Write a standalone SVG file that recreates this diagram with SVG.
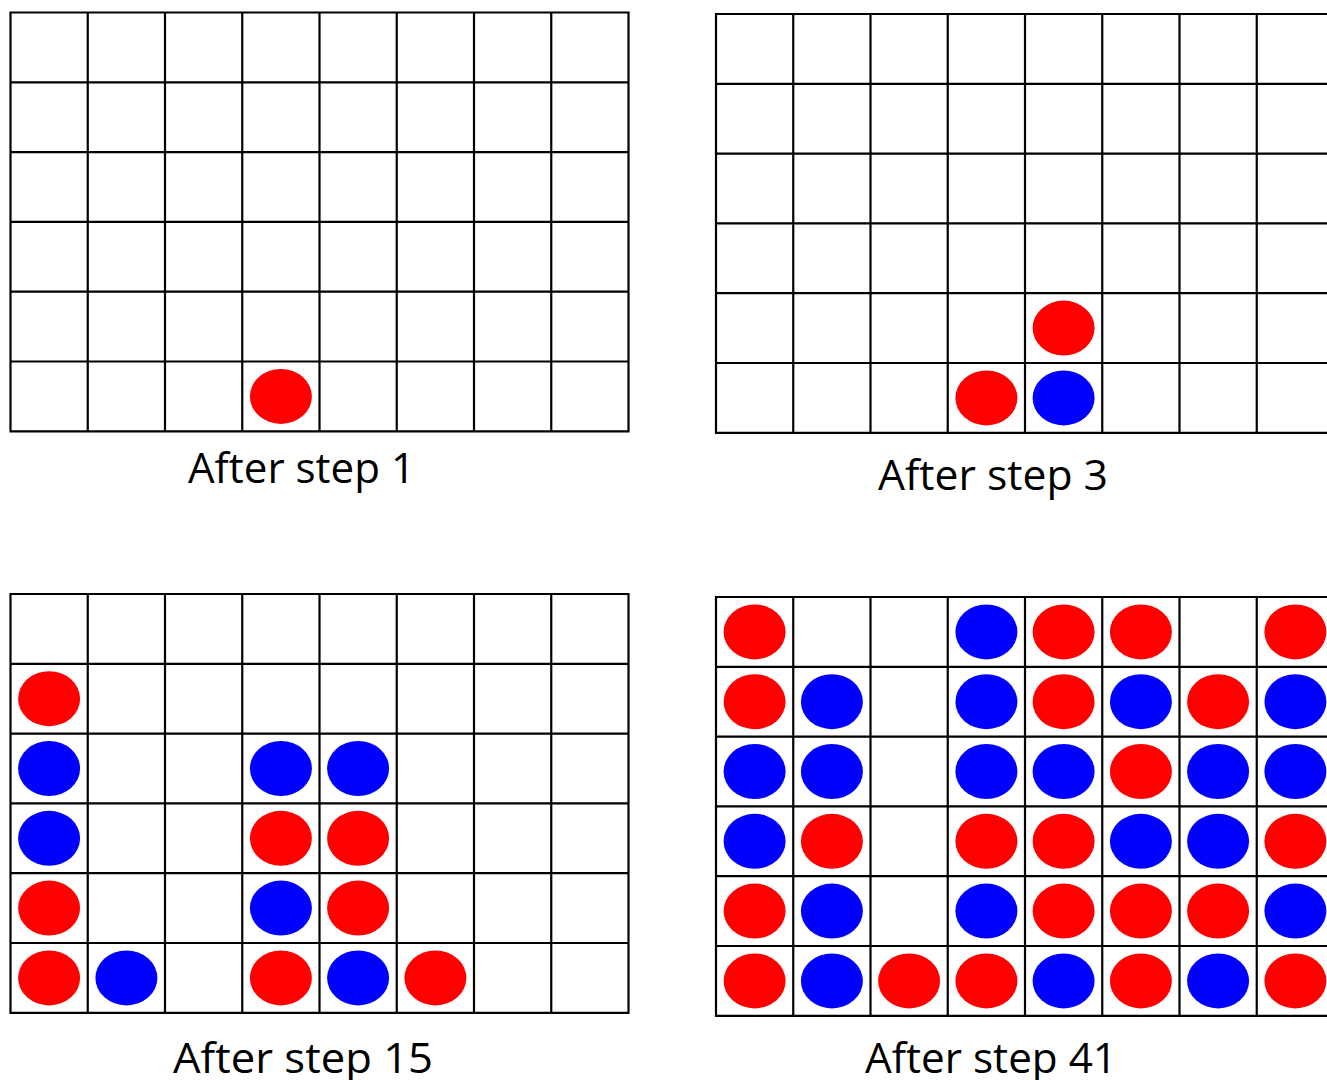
<svg xmlns="http://www.w3.org/2000/svg" xmlns:xlink="http://www.w3.org/1999/xlink" width="1327" height="1080" viewBox="0 0 1327 1080">
<style>
.grid{fill:#fff;stroke:#000;stroke-width:2.2}
.r{fill:#ff0000}
.b{fill:#0000ff}
.lbl{font-family:"Open Sans","Noto Sans",sans-serif;font-size:42px;fill:#000;text-anchor:middle}
</style>
<defs>
<path id="board" class="grid" d="M0 0H618V418.8H0Z M77.25 0V418.8 M154.5 0V418.8 M231.75 0V418.8 M309 0V418.8 M386.25 0V418.8 M463.5 0V418.8 M540.75 0V418.8 M0 69.8H618 M0 139.6H618 M0 209.4H618 M0 279.2H618 M0 349H618"/>
</defs>
<rect width="1327" height="1080" fill="#fff"/>
<g id="board1" transform="translate(10.5 12.5)">
<use xlink:href="#board" href="#board"/>
<ellipse class="r" cx="270.4" cy="383.9" rx="31" ry="27.5"/>
</g>
<g id="board2" transform="translate(716 14)">
<use xlink:href="#board" href="#board"/>
<ellipse class="r" cx="347.6" cy="314.1" rx="31" ry="27.5"/>
<ellipse class="r" cx="270.4" cy="383.9" rx="31" ry="27.5"/>
<ellipse class="b" cx="347.6" cy="383.9" rx="31" ry="27.5"/>
</g>
<g id="board3" transform="translate(10.5 594)">
<use xlink:href="#board" href="#board"/>
<ellipse class="r" cx="38.6" cy="104.7" rx="31" ry="27.5"/>
<ellipse class="b" cx="38.6" cy="174.5" rx="31" ry="27.5"/>
<ellipse class="b" cx="270.4" cy="174.5" rx="31" ry="27.5"/>
<ellipse class="b" cx="347.6" cy="174.5" rx="31" ry="27.5"/>
<ellipse class="b" cx="38.6" cy="244.3" rx="31" ry="27.5"/>
<ellipse class="r" cx="270.4" cy="244.3" rx="31" ry="27.5"/>
<ellipse class="r" cx="347.6" cy="244.3" rx="31" ry="27.5"/>
<ellipse class="r" cx="38.6" cy="314.1" rx="31" ry="27.5"/>
<ellipse class="b" cx="270.4" cy="314.1" rx="31" ry="27.5"/>
<ellipse class="r" cx="347.6" cy="314.1" rx="31" ry="27.5"/>
<ellipse class="r" cx="38.6" cy="383.9" rx="31" ry="27.5"/>
<ellipse class="b" cx="115.9" cy="383.9" rx="31" ry="27.5"/>
<ellipse class="r" cx="270.4" cy="383.9" rx="31" ry="27.5"/>
<ellipse class="b" cx="347.6" cy="383.9" rx="31" ry="27.5"/>
<ellipse class="r" cx="424.9" cy="383.9" rx="31" ry="27.5"/>
</g>
<g id="board4" transform="translate(716 597)">
<use xlink:href="#board" href="#board"/>
<ellipse class="r" cx="38.6" cy="34.9" rx="31" ry="27.5"/>
<ellipse class="b" cx="270.4" cy="34.9" rx="31" ry="27.5"/>
<ellipse class="r" cx="347.6" cy="34.9" rx="31" ry="27.5"/>
<ellipse class="r" cx="424.9" cy="34.9" rx="31" ry="27.5"/>
<ellipse class="r" cx="579.4" cy="34.9" rx="31" ry="27.5"/>
<ellipse class="r" cx="38.6" cy="104.7" rx="31" ry="27.5"/>
<ellipse class="b" cx="115.9" cy="104.7" rx="31" ry="27.5"/>
<ellipse class="b" cx="270.4" cy="104.7" rx="31" ry="27.5"/>
<ellipse class="r" cx="347.6" cy="104.7" rx="31" ry="27.5"/>
<ellipse class="b" cx="424.9" cy="104.7" rx="31" ry="27.5"/>
<ellipse class="r" cx="502.1" cy="104.7" rx="31" ry="27.5"/>
<ellipse class="b" cx="579.4" cy="104.7" rx="31" ry="27.5"/>
<ellipse class="b" cx="38.6" cy="174.5" rx="31" ry="27.5"/>
<ellipse class="b" cx="115.9" cy="174.5" rx="31" ry="27.5"/>
<ellipse class="b" cx="270.4" cy="174.5" rx="31" ry="27.5"/>
<ellipse class="b" cx="347.6" cy="174.5" rx="31" ry="27.5"/>
<ellipse class="r" cx="424.9" cy="174.5" rx="31" ry="27.5"/>
<ellipse class="b" cx="502.1" cy="174.5" rx="31" ry="27.5"/>
<ellipse class="b" cx="579.4" cy="174.5" rx="31" ry="27.5"/>
<ellipse class="b" cx="38.6" cy="244.3" rx="31" ry="27.5"/>
<ellipse class="r" cx="115.9" cy="244.3" rx="31" ry="27.5"/>
<ellipse class="r" cx="270.4" cy="244.3" rx="31" ry="27.5"/>
<ellipse class="r" cx="347.6" cy="244.3" rx="31" ry="27.5"/>
<ellipse class="b" cx="424.9" cy="244.3" rx="31" ry="27.5"/>
<ellipse class="b" cx="502.1" cy="244.3" rx="31" ry="27.5"/>
<ellipse class="r" cx="579.4" cy="244.3" rx="31" ry="27.5"/>
<ellipse class="r" cx="38.6" cy="314.1" rx="31" ry="27.5"/>
<ellipse class="b" cx="115.9" cy="314.1" rx="31" ry="27.5"/>
<ellipse class="b" cx="270.4" cy="314.1" rx="31" ry="27.5"/>
<ellipse class="r" cx="347.6" cy="314.1" rx="31" ry="27.5"/>
<ellipse class="r" cx="424.9" cy="314.1" rx="31" ry="27.5"/>
<ellipse class="r" cx="502.1" cy="314.1" rx="31" ry="27.5"/>
<ellipse class="b" cx="579.4" cy="314.1" rx="31" ry="27.5"/>
<ellipse class="r" cx="38.6" cy="383.9" rx="31" ry="27.5"/>
<ellipse class="b" cx="115.9" cy="383.9" rx="31" ry="27.5"/>
<ellipse class="r" cx="193.1" cy="383.9" rx="31" ry="27.5"/>
<ellipse class="r" cx="270.4" cy="383.9" rx="31" ry="27.5"/>
<ellipse class="b" cx="347.6" cy="383.9" rx="31" ry="27.5"/>
<ellipse class="r" cx="424.9" cy="383.9" rx="31" ry="27.5"/>
<ellipse class="b" cx="502.1" cy="383.9" rx="31" ry="27.5"/>
<ellipse class="r" cx="579.4" cy="383.9" rx="31" ry="27.5"/>
</g>
<g id="labels">
<text class="lbl" x="301.5" y="483" textLength="227" lengthAdjust="spacingAndGlyphs">After step 1</text>
<text class="lbl" x="993" y="490" textLength="230" lengthAdjust="spacingAndGlyphs">After step 3</text>
<text class="lbl" x="303" y="1073" textLength="260" lengthAdjust="spacingAndGlyphs">After step 15</text>
<text class="lbl" x="991" y="1073" textLength="252" lengthAdjust="spacingAndGlyphs">After step 41</text>
</g>
</svg>
